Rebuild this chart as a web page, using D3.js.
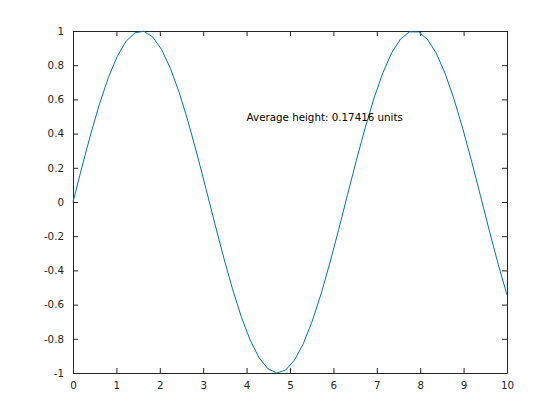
<!DOCTYPE html>
<html><head><meta charset="utf-8">
<script src="https://cdn.jsdelivr.net/npm/d3@7"></script>
<style>body{margin:0;background:#fff}svg{display:block}text{font-family:"DejaVu Sans",sans-serif}</style>
</head><body><svg id="c" width="560" height="420"></svg>
<script>
const xs = [0,0.2041,0.4082,0.6122,0.8163,1.0204,1.2245,1.4286,1.6327,1.8367,2.0408,2.2449,2.4490,2.6531,2.8571,3.0612,3.2653,3.4694,3.6735,3.8776,4.0816,4.2857,4.4898,4.6939,4.8980,5.1020,5.3061,5.5102,5.7143,5.9184,6.1224,6.3265,6.5306,6.7347,6.9388,7.1429,7.3469,7.5510,7.7551,7.9592,8.1633,8.3673,8.5714,8.7755,8.9796,9.1837,9.3878,9.5918,9.7959,10];
const ys = [0,0.20267,0.39692,0.57470,0.72864,0.85232,0.94063,0.98990,0.99809,0.96485,0.89156,0.78127,0.63855,0.46933,0.28063,0.08029,-0.12340,-0.32197,-0.50715,-0.67130,-0.80758,-0.91035,-0.97533,-0.99983,-0.98283,-0.92504,-0.82886,-0.69828,-0.53870,-0.35678,-0.16004,0.04333,0.24491,0.43632,0.60963,0.75763,0.87418,0.95446,0.99512,0.99447,0.95255,0.87109,0.75349,0.60460,0.43063,0.23878,0.03701,-0.16629,-0.36268,-0.54402];
const xTicks = [0,1,2,3,4,5,6,7,8,9,10];
const yTicks = [-1,-0.8,-0.6,-0.4,-0.2,0,0.2,0.4,0.6,0.8,1];
const labelText = "Average height: 0.17416 units";
const labelPos = [4, 0.5];

const svg = d3.select("#c");
const L=73, R=507, T=31, B=373;
const x = d3.scaleLinear().domain([0,10]).range([L,R]);
const y = d3.scaleLinear().domain([-1,1]).range([B,T]);
const ink = "#262626";
const fmt = d => String(d);

const gx = svg.append("g").attr("transform",`translate(0,${B})`)
  .call(d3.axisBottom(x).tickValues(xTicks).tickFormat(fmt).tickSizeInner(-5).tickSizeOuter(0).tickPadding(9));
const gxt = svg.append("g").attr("transform",`translate(0,${T})`)
  .call(d3.axisTop(x).tickValues(xTicks).tickFormat("").tickSizeInner(-5).tickSizeOuter(0));
const gy = svg.append("g").attr("transform",`translate(${L},0)`)
  .call(d3.axisLeft(y).tickValues(yTicks).tickFormat(fmt).tickSizeInner(-5).tickSizeOuter(0).tickPadding(9));
const gyr = svg.append("g").attr("transform",`translate(${R},0)`)
  .call(d3.axisRight(y).tickValues(yTicks).tickFormat("").tickSizeInner(-5).tickSizeOuter(0));
[gx,gxt,gy,gyr].forEach(g=>{
  g.select(".domain").attr("stroke",ink).attr("stroke-width",1);
  g.selectAll(".tick line").attr("stroke",ink);
  g.selectAll("text").attr("fill",ink).style("font-size","10.3px").style("font-family","DejaVu Sans");
});

svg.append("path").datum(xs.map((v,i)=>[v,ys[i]]))
  .attr("fill","none").attr("stroke","#0072bd").attr("stroke-width",1)
  .attr("d", d3.line().x(d=>x(d[0])).y(d=>y(d[1])));

svg.append("text").attr("x",x(labelPos[0])).attr("y",y(labelPos[1]))
  .attr("dy","0.4em").attr("fill","#000").style("font-size","10.3px").text(labelText);
</script></body></html>
